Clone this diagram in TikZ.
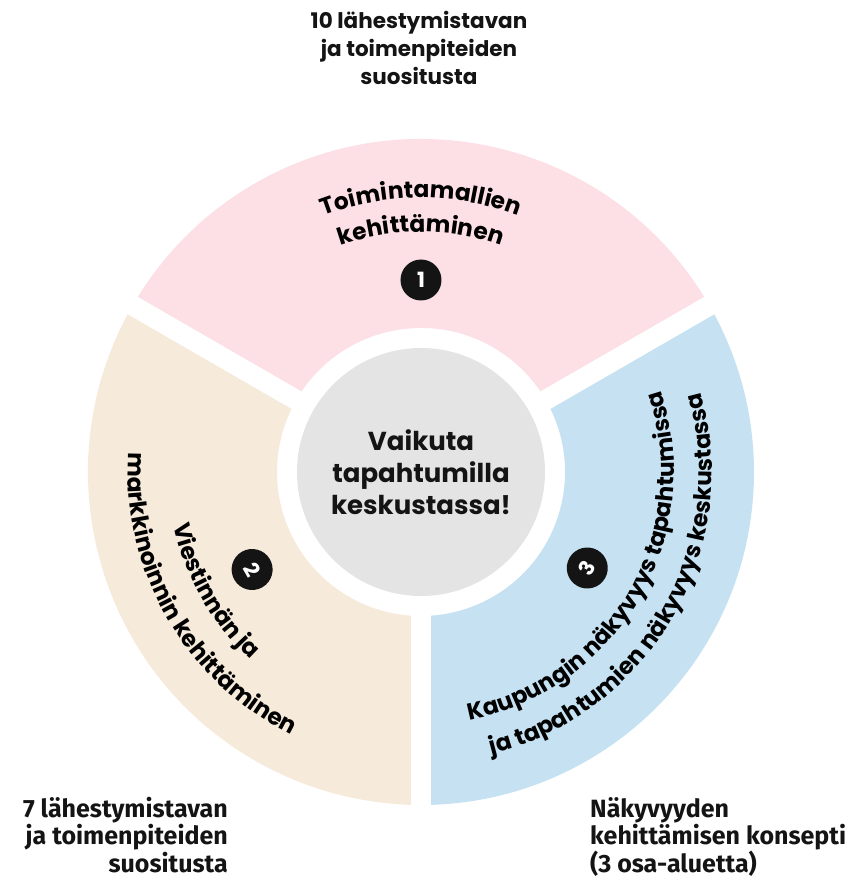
\documentclass[tikz,border=0pt]{standalone}
\usepackage{fontspec}
\setmainfont{Poppins}
\newfontfamily\condfont{Fira Sans}
\usetikzlibrary{decorations.text}
\definecolor{pinkc}{HTML}{FCE0E6}
\definecolor{beigec}{HTML}{F6EADB}
\definecolor{bluec}{HTML}{C6E2F2}
\definecolor{grayc}{HTML}{E4E4E4}
\definecolor{inkc}{HTML}{141414}
\newcommand\sectxt{\fontsize{23.3}{27}\selectfont\bfseries}
\begin{document}
\begin{tikzpicture}[x=1pt,y=1pt,
  gapline/.style={draw=white, line width=20pt},
  numdot/.style={circle, fill=inkc, minimum size=41pt, inner sep=0pt, text=white,
    font=\fontsize{21}{21}\selectfont\bfseries},
  curved/.style={decorate, decoration={text along path, text align=center,
    text={|\sectxt|#1}}},
  hubstyle/.style={circle, fill=grayc, minimum size=248pt, inner sep=0pt, align=center,
    text=inkc, font=\fontsize{26}{32}\selectfont\bfseries},
  toplabel/.style={align=center, inner sep=0pt, text=inkc, font=\fontsize{21.5}{28}\selectfont\bfseries},
  sidelabel/.style={inner sep=0pt, text=inkc, font=\condfont\fontsize{25}{27.5}\selectfont\bfseries}
]
\useasboundingbox (-421,-409) rectangle (439,472);
% sectors
\fill[pinkc] (30:333) arc[start angle=30, end angle=150, radius=333]
  -- (150:144) arc[start angle=150, end angle=30, radius=144] -- cycle;
\fill[beigec] (150:333) arc[start angle=150, end angle=270, radius=333]
  -- (270:144) arc[start angle=270, end angle=150, radius=144] -- cycle;
\fill[bluec] (270:333) arc[start angle=270, end angle=390, radius=333]
  -- (390:144) arc[start angle=390, end angle=270, radius=144] -- cycle;
% gaps
\coordinate (c0) at (0,0);
\coordinate (g1) at (30:345);
\coordinate (g2) at (150:345);
\coordinate (g3) at (270:345);
\draw[gapline] (c0) -- (g1);
\draw[gapline] (c0) -- (g2);
\draw[gapline] (c0) -- (g3);
% hub
\node[hubstyle] (hub) at (0,0) {Vaikuta\\tapahtumilla\\keskustassa!};
% curved texts
\path[curved={Toimintamallien}] (150:274) arc[start angle=150, end angle=30, radius=274];
\path[curved={kehittäminen}] (150:240) arc[start angle=150, end angle=30, radius=240];
\path[curved={Viestinnän ja}] (150:253) arc[start angle=150, end angle=270, radius=253];
\path[curved={markkinoinnin kehittäminen}] (150:293) arc[start angle=150, end angle=270, radius=293];
\path[curved={Kaupungin näkyvyys tapahtumissa}] (270:253) arc[start angle=270, end angle=390, radius=253];
\path[curved={ja tapahtumien näkyvyys keskustassa}] (270:291) arc[start angle=270, end angle=390, radius=291];
% numbers
\node[numdot] (n1) at (90:192) {1};
\node[numdot, rotate=-60] (n2) at (210:195) {2};
\node[numdot, rotate=60] (n3) at (330:192) {3};
% outer labels
\node[toplabel] (t1) at (-2,424) {10 lähestymistavan\\ja toimenpiteiden\\suositusta};
\node[sidelabel, align=right, anchor=north east] (t2) at (-193,-325) {7 lähestymistavan\\ja toimenpiteiden\\suositusta};
\node[sidelabel, align=left, anchor=north west] (t3) at (169,-325) {Näkyvyyden\\kehittämisen konsepti\\(3 osa-aluetta)};
\end{tikzpicture}
\end{document}
